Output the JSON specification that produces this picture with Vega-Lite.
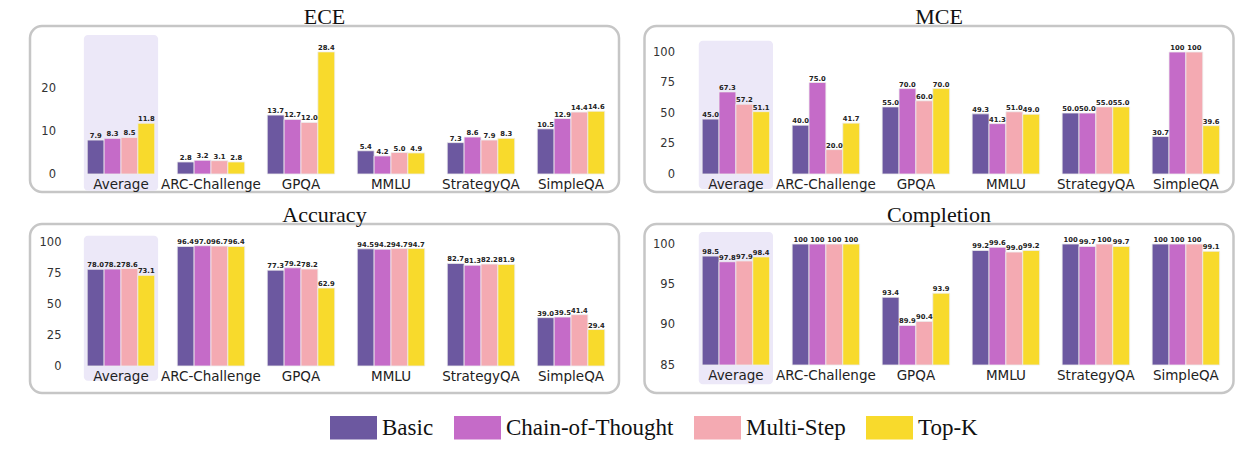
{
  "$schema": "https://vega.github.io/schema/vega-lite/v6.json",
  "padding": {"left": 28, "top": 4, "right": 5, "bottom": 5},
  "autosize": {"type": "pad"},
  "bounds": "flush",
  "columns": 2,
  "spacing": {"row": 32, "column": 25.5},
  "datasets": {
    "vals": [
      {"metric": "ECE", "benchmark": "Average", "method": "Basic", "value": 7.9},
      {"metric": "ECE", "benchmark": "Average", "method": "Chain-of-Thought", "value": 8.3},
      {"metric": "ECE", "benchmark": "Average", "method": "Multi-Step", "value": 8.5},
      {"metric": "ECE", "benchmark": "Average", "method": "Top-K", "value": 11.8},
      {"metric": "ECE", "benchmark": "ARC-Challenge", "method": "Basic", "value": 2.8},
      {"metric": "ECE", "benchmark": "ARC-Challenge", "method": "Chain-of-Thought", "value": 3.2},
      {"metric": "ECE", "benchmark": "ARC-Challenge", "method": "Multi-Step", "value": 3.1},
      {"metric": "ECE", "benchmark": "ARC-Challenge", "method": "Top-K", "value": 2.8},
      {"metric": "ECE", "benchmark": "GPQA", "method": "Basic", "value": 13.7},
      {"metric": "ECE", "benchmark": "GPQA", "method": "Chain-of-Thought", "value": 12.7},
      {"metric": "ECE", "benchmark": "GPQA", "method": "Multi-Step", "value": 12.0},
      {"metric": "ECE", "benchmark": "GPQA", "method": "Top-K", "value": 28.4},
      {"metric": "ECE", "benchmark": "MMLU", "method": "Basic", "value": 5.4},
      {"metric": "ECE", "benchmark": "MMLU", "method": "Chain-of-Thought", "value": 4.2},
      {"metric": "ECE", "benchmark": "MMLU", "method": "Multi-Step", "value": 5.0},
      {"metric": "ECE", "benchmark": "MMLU", "method": "Top-K", "value": 4.9},
      {"metric": "ECE", "benchmark": "StrategyQA", "method": "Basic", "value": 7.3},
      {"metric": "ECE", "benchmark": "StrategyQA", "method": "Chain-of-Thought", "value": 8.6},
      {"metric": "ECE", "benchmark": "StrategyQA", "method": "Multi-Step", "value": 7.9},
      {"metric": "ECE", "benchmark": "StrategyQA", "method": "Top-K", "value": 8.3},
      {"metric": "ECE", "benchmark": "SimpleQA", "method": "Basic", "value": 10.5},
      {"metric": "ECE", "benchmark": "SimpleQA", "method": "Chain-of-Thought", "value": 12.9},
      {"metric": "ECE", "benchmark": "SimpleQA", "method": "Multi-Step", "value": 14.4},
      {"metric": "ECE", "benchmark": "SimpleQA", "method": "Top-K", "value": 14.6},

      {"metric": "MCE", "benchmark": "Average", "method": "Basic", "value": 45.0},
      {"metric": "MCE", "benchmark": "Average", "method": "Chain-of-Thought", "value": 67.3},
      {"metric": "MCE", "benchmark": "Average", "method": "Multi-Step", "value": 57.2},
      {"metric": "MCE", "benchmark": "Average", "method": "Top-K", "value": 51.1},
      {"metric": "MCE", "benchmark": "ARC-Challenge", "method": "Basic", "value": 40.0},
      {"metric": "MCE", "benchmark": "ARC-Challenge", "method": "Chain-of-Thought", "value": 75.0},
      {"metric": "MCE", "benchmark": "ARC-Challenge", "method": "Multi-Step", "value": 20.0},
      {"metric": "MCE", "benchmark": "ARC-Challenge", "method": "Top-K", "value": 41.7},
      {"metric": "MCE", "benchmark": "GPQA", "method": "Basic", "value": 55.0},
      {"metric": "MCE", "benchmark": "GPQA", "method": "Chain-of-Thought", "value": 70.0},
      {"metric": "MCE", "benchmark": "GPQA", "method": "Multi-Step", "value": 60.0},
      {"metric": "MCE", "benchmark": "GPQA", "method": "Top-K", "value": 70.0},
      {"metric": "MCE", "benchmark": "MMLU", "method": "Basic", "value": 49.3},
      {"metric": "MCE", "benchmark": "MMLU", "method": "Chain-of-Thought", "value": 41.3},
      {"metric": "MCE", "benchmark": "MMLU", "method": "Multi-Step", "value": 51.0},
      {"metric": "MCE", "benchmark": "MMLU", "method": "Top-K", "value": 49.0},
      {"metric": "MCE", "benchmark": "StrategyQA", "method": "Basic", "value": 50.0},
      {"metric": "MCE", "benchmark": "StrategyQA", "method": "Chain-of-Thought", "value": 50.0},
      {"metric": "MCE", "benchmark": "StrategyQA", "method": "Multi-Step", "value": 55.0},
      {"metric": "MCE", "benchmark": "StrategyQA", "method": "Top-K", "value": 55.0},
      {"metric": "MCE", "benchmark": "SimpleQA", "method": "Basic", "value": 30.7},
      {"metric": "MCE", "benchmark": "SimpleQA", "method": "Chain-of-Thought", "value": 100},
      {"metric": "MCE", "benchmark": "SimpleQA", "method": "Multi-Step", "value": 100},
      {"metric": "MCE", "benchmark": "SimpleQA", "method": "Top-K", "value": 39.6},

      {"metric": "Accuracy", "benchmark": "Average", "method": "Basic", "value": 78.0},
      {"metric": "Accuracy", "benchmark": "Average", "method": "Chain-of-Thought", "value": 78.2},
      {"metric": "Accuracy", "benchmark": "Average", "method": "Multi-Step", "value": 78.6},
      {"metric": "Accuracy", "benchmark": "Average", "method": "Top-K", "value": 73.1},
      {"metric": "Accuracy", "benchmark": "ARC-Challenge", "method": "Basic", "value": 96.4},
      {"metric": "Accuracy", "benchmark": "ARC-Challenge", "method": "Chain-of-Thought", "value": 97.0},
      {"metric": "Accuracy", "benchmark": "ARC-Challenge", "method": "Multi-Step", "value": 96.7},
      {"metric": "Accuracy", "benchmark": "ARC-Challenge", "method": "Top-K", "value": 96.4},
      {"metric": "Accuracy", "benchmark": "GPQA", "method": "Basic", "value": 77.3},
      {"metric": "Accuracy", "benchmark": "GPQA", "method": "Chain-of-Thought", "value": 79.2},
      {"metric": "Accuracy", "benchmark": "GPQA", "method": "Multi-Step", "value": 78.2},
      {"metric": "Accuracy", "benchmark": "GPQA", "method": "Top-K", "value": 62.9},
      {"metric": "Accuracy", "benchmark": "MMLU", "method": "Basic", "value": 94.5},
      {"metric": "Accuracy", "benchmark": "MMLU", "method": "Chain-of-Thought", "value": 94.2},
      {"metric": "Accuracy", "benchmark": "MMLU", "method": "Multi-Step", "value": 94.7},
      {"metric": "Accuracy", "benchmark": "MMLU", "method": "Top-K", "value": 94.7},
      {"metric": "Accuracy", "benchmark": "StrategyQA", "method": "Basic", "value": 82.7},
      {"metric": "Accuracy", "benchmark": "StrategyQA", "method": "Chain-of-Thought", "value": 81.3},
      {"metric": "Accuracy", "benchmark": "StrategyQA", "method": "Multi-Step", "value": 82.2},
      {"metric": "Accuracy", "benchmark": "StrategyQA", "method": "Top-K", "value": 81.9},
      {"metric": "Accuracy", "benchmark": "SimpleQA", "method": "Basic", "value": 39.0},
      {"metric": "Accuracy", "benchmark": "SimpleQA", "method": "Chain-of-Thought", "value": 39.5},
      {"metric": "Accuracy", "benchmark": "SimpleQA", "method": "Multi-Step", "value": 41.4},
      {"metric": "Accuracy", "benchmark": "SimpleQA", "method": "Top-K", "value": 29.4},

      {"metric": "Completion", "benchmark": "Average", "method": "Basic", "value": 98.5},
      {"metric": "Completion", "benchmark": "Average", "method": "Chain-of-Thought", "value": 97.8},
      {"metric": "Completion", "benchmark": "Average", "method": "Multi-Step", "value": 97.9},
      {"metric": "Completion", "benchmark": "Average", "method": "Top-K", "value": 98.4},
      {"metric": "Completion", "benchmark": "ARC-Challenge", "method": "Basic", "value": 100},
      {"metric": "Completion", "benchmark": "ARC-Challenge", "method": "Chain-of-Thought", "value": 100},
      {"metric": "Completion", "benchmark": "ARC-Challenge", "method": "Multi-Step", "value": 100},
      {"metric": "Completion", "benchmark": "ARC-Challenge", "method": "Top-K", "value": 100},
      {"metric": "Completion", "benchmark": "GPQA", "method": "Basic", "value": 93.4},
      {"metric": "Completion", "benchmark": "GPQA", "method": "Chain-of-Thought", "value": 89.9},
      {"metric": "Completion", "benchmark": "GPQA", "method": "Multi-Step", "value": 90.4},
      {"metric": "Completion", "benchmark": "GPQA", "method": "Top-K", "value": 93.9},
      {"metric": "Completion", "benchmark": "MMLU", "method": "Basic", "value": 99.2},
      {"metric": "Completion", "benchmark": "MMLU", "method": "Chain-of-Thought", "value": 99.6},
      {"metric": "Completion", "benchmark": "MMLU", "method": "Multi-Step", "value": 99.0},
      {"metric": "Completion", "benchmark": "MMLU", "method": "Top-K", "value": 99.2},
      {"metric": "Completion", "benchmark": "StrategyQA", "method": "Basic", "value": 100},
      {"metric": "Completion", "benchmark": "StrategyQA", "method": "Chain-of-Thought", "value": 99.7},
      {"metric": "Completion", "benchmark": "StrategyQA", "method": "Multi-Step", "value": 100},
      {"metric": "Completion", "benchmark": "StrategyQA", "method": "Top-K", "value": 99.7},
      {"metric": "Completion", "benchmark": "SimpleQA", "method": "Basic", "value": 100},
      {"metric": "Completion", "benchmark": "SimpleQA", "method": "Chain-of-Thought", "value": 100},
      {"metric": "Completion", "benchmark": "SimpleQA", "method": "Multi-Step", "value": 100},
      {"metric": "Completion", "benchmark": "SimpleQA", "method": "Top-K", "value": 99.1}
    ]
  },
  "concat": [
    {
      "title": {"text": "ECE"},
      "width": 589, "height": 166,
      "encoding": {
        "x": {"field": "benchmark", "type": "nominal",
              "sort": ["Average", "ARC-Challenge", "GPQA", "MMLU", "StrategyQA", "SimpleQA"],
              "scale": {"range": [28.5, 589], "paddingInner": 0.25, "paddingOuter": 0.239, "align": 0.668},
              "axis": {"offset": -18, "zindex": 2}}
      },
      "layer": [
        {
          "data": {"values": [{"benchmark": "Average"}]},
          "mark": {"type": "bar", "color": "#ece8f8", "cornerRadius": 4, "width": {"band": 1.1}},
          "encoding": {
            "y": {"datum": 32.3, "type": "quantitative", "scale": {"domain": [0, 30], "range": [148, 19]}, "axis": {"offset": -28.5, "values": [0, 10, 20]}},
            "y2": {"datum": -3.9}
          }
        },
        {
          "data": {"name": "vals"},
          "transform": [{"filter": "datum.metric == 'ECE'"}],
          "mark": {"type": "bar", "stroke": "#eeeeee", "strokeWidth": 0.8},
          "encoding": {
            "xOffset": {"field": "method", "type": "nominal", "sort": ["Basic", "Chain-of-Thought", "Multi-Step", "Top-K"], "scale": {"paddingInner": 0, "paddingOuter": 0}},
            "y": {"field": "value", "type": "quantitative", "scale": {"domain": [0, 30], "range": [148, 19]}, "axis": {"offset": -28.5, "values": [0, 10, 20]}},
            "y2": {"datum": 0},
            "color": {"field": "method", "type": "nominal",
              "scale": {"domain": ["Basic", "Chain-of-Thought", "Multi-Step", "Top-K"], "range": ["#6c58a0", "#c56bc8", "#f4aab2", "#f8da2c"]},
              "legend": {"orient": "none", "legendX": 300, "legendY": 378, "direction": "horizontal", "title": null,
                "symbolType": "M-1,-0.5H1V0.5H-1Z", "symbolSize": 2209, "symbolStrokeWidth": 0,
                "labelFont": "Liberation Serif", "labelFontSize": 23, "labelColor": "#111", "labelOffset": 5,
                "columnPadding": 20, "labelLimit": 300}}
          }
        },
        {
          "data": {"name": "vals"},
          "transform": [{"filter": "datum.metric == 'ECE'"}, {"calculate": "datum.value == 100 ? '100' : format(datum.value, '.1f')", "as": "label"}],
          "mark": {"type": "text", "font": "DejaVu Sans", "fontSize": 6.8, "fontWeight": "bold", "baseline": "bottom", "dy": -1, "color": "#222"},
          "encoding": {
            "xOffset": {"field": "method", "type": "nominal", "sort": ["Basic", "Chain-of-Thought", "Multi-Step", "Top-K"], "scale": {"paddingInner": 0, "paddingOuter": 0}},
            "y": {"field": "value", "type": "quantitative", "scale": {"domain": [0, 30], "range": [148, 19]}},
            "text": {"field": "label"}
          }
        }
      ]
    },
    {
      "title": {"text": "MCE"},
      "width": 589, "height": 166,
      "encoding": {
        "x": {"field": "benchmark", "type": "nominal",
              "sort": ["Average", "ARC-Challenge", "GPQA", "MMLU", "StrategyQA", "SimpleQA"],
              "scale": {"range": [33, 589], "paddingInner": 0.25, "paddingOuter": 0.214, "align": 0.64},
              "axis": {"offset": -18, "zindex": 2}}
      },
      "layer": [
        {
          "data": {"values": [{"benchmark": "Average"}]},
          "mark": {"type": "bar", "color": "#ece8f8", "cornerRadius": 4, "width": {"band": 1.1}},
          "encoding": {
            "y": {"datum": 109.3, "type": "quantitative", "scale": {"domain": [0, 100], "range": [148, 26]}, "axis": {"offset": -33, "values": [0, 25, 50, 75, 100]}},
            "y2": {"datum": -12.3}
          }
        },
        {
          "data": {"name": "vals"},
          "transform": [{"filter": "datum.metric == 'MCE'"}],
          "mark": {"type": "bar", "stroke": "#eeeeee", "strokeWidth": 0.8},
          "encoding": {
            "xOffset": {"field": "method", "type": "nominal", "sort": ["Basic", "Chain-of-Thought", "Multi-Step", "Top-K"], "scale": {"paddingInner": 0, "paddingOuter": 0}},
            "y": {"field": "value", "type": "quantitative", "scale": {"domain": [0, 100], "range": [148, 26]}, "axis": {"offset": -33, "values": [0, 25, 50, 75, 100]}},
            "y2": {"datum": 0},
            "color": {"field": "method", "type": "nominal"}
          }
        },
        {
          "data": {"name": "vals"},
          "transform": [{"filter": "datum.metric == 'MCE'"}, {"calculate": "datum.value == 100 ? '100' : format(datum.value, '.1f')", "as": "label"}],
          "mark": {"type": "text", "font": "DejaVu Sans", "fontSize": 6.8, "fontWeight": "bold", "baseline": "bottom", "dy": -1, "color": "#222"},
          "encoding": {
            "xOffset": {"field": "method", "type": "nominal", "sort": ["Basic", "Chain-of-Thought", "Multi-Step", "Top-K"], "scale": {"paddingInner": 0, "paddingOuter": 0}},
            "y": {"field": "value", "type": "quantitative", "scale": {"domain": [0, 100], "range": [148, 26]}},
            "text": {"field": "label"}
          }
        }
      ]
    },
    {
      "title": {"text": "Accuracy"},
      "width": 589, "height": 169,
      "encoding": {
        "x": {"field": "benchmark", "type": "nominal",
              "sort": ["Average", "ARC-Challenge", "GPQA", "MMLU", "StrategyQA", "SimpleQA"],
              "scale": {"range": [34, 589], "paddingInner": 0.25, "paddingOuter": 0.208, "align": 0.62},
              "axis": {"offset": -27, "zindex": 2}}
      },
      "layer": [
        {
          "data": {"values": [{"benchmark": "Average"}]},
          "mark": {"type": "bar", "color": "#ece8f8", "cornerRadius": 4, "width": {"band": 1.1}},
          "encoding": {
            "y": {"datum": 105, "type": "quantitative", "scale": {"domain": [0, 100], "range": [142, 18]}, "axis": {"offset": -34, "values": [0, 25, 50, 75, 100]}},
            "y2": {"datum": -11.9}
          }
        },
        {
          "data": {"name": "vals"},
          "transform": [{"filter": "datum.metric == 'Accuracy'"}],
          "mark": {"type": "bar", "stroke": "#eeeeee", "strokeWidth": 0.8},
          "encoding": {
            "xOffset": {"field": "method", "type": "nominal", "sort": ["Basic", "Chain-of-Thought", "Multi-Step", "Top-K"], "scale": {"paddingInner": 0, "paddingOuter": 0}},
            "y": {"field": "value", "type": "quantitative", "scale": {"domain": [0, 100], "range": [142, 18]}, "axis": {"offset": -34, "values": [0, 25, 50, 75, 100]}},
            "y2": {"datum": 0},
            "color": {"field": "method", "type": "nominal"}
          }
        },
        {
          "data": {"name": "vals"},
          "transform": [{"filter": "datum.metric == 'Accuracy'"}, {"calculate": "datum.value == 100 ? '100' : format(datum.value, '.1f')", "as": "label"}],
          "mark": {"type": "text", "font": "DejaVu Sans", "fontSize": 6.8, "fontWeight": "bold", "baseline": "bottom", "dy": -1, "color": "#222"},
          "encoding": {
            "xOffset": {"field": "method", "type": "nominal", "sort": ["Basic", "Chain-of-Thought", "Multi-Step", "Top-K"], "scale": {"paddingInner": 0, "paddingOuter": 0}},
            "y": {"field": "value", "type": "quantitative", "scale": {"domain": [0, 100], "range": [142, 18]}},
            "text": {"field": "label"}
          }
        }
      ]
    },
    {
      "title": {"text": "Completion"},
      "width": 589, "height": 169,
      "encoding": {
        "x": {"field": "benchmark", "type": "nominal",
              "sort": ["Average", "ARC-Challenge", "GPQA", "MMLU", "StrategyQA", "SimpleQA"],
              "scale": {"range": [33, 589], "paddingInner": 0.25, "paddingOuter": 0.214, "align": 0.64},
              "axis": {"offset": -28, "zindex": 2}}
      },
      "layer": [
        {
          "data": {"values": [{"benchmark": "Average"}]},
          "mark": {"type": "bar", "color": "#ece8f8", "cornerRadius": 4, "width": {"band": 1.1}},
          "encoding": {
            "y": {"datum": 101.5, "type": "quantitative", "scale": {"domain": [85, 100], "range": [141, 20], "zero": false}, "axis": {"offset": -33, "values": [85, 90, 95, 100]}},
            "y2": {"datum": 82.6}
          }
        },
        {
          "data": {"name": "vals"},
          "transform": [{"filter": "datum.metric == 'Completion'"}],
          "mark": {"type": "bar", "stroke": "#eeeeee", "strokeWidth": 0.8},
          "encoding": {
            "xOffset": {"field": "method", "type": "nominal", "sort": ["Basic", "Chain-of-Thought", "Multi-Step", "Top-K"], "scale": {"paddingInner": 0, "paddingOuter": 0}},
            "y": {"field": "value", "type": "quantitative", "scale": {"domain": [85, 100], "range": [141, 20], "zero": false}, "axis": {"offset": -33, "values": [85, 90, 95, 100]}},
            "y2": {"datum": 85},
            "color": {"field": "method", "type": "nominal"}
          }
        },
        {
          "data": {"name": "vals"},
          "transform": [{"filter": "datum.metric == 'Completion'"}, {"calculate": "datum.value == 100 ? '100' : format(datum.value, '.1f')", "as": "label"}],
          "mark": {"type": "text", "font": "DejaVu Sans", "fontSize": 6.8, "fontWeight": "bold", "baseline": "bottom", "dy": -1, "color": "#222"},
          "encoding": {
            "xOffset": {"field": "method", "type": "nominal", "sort": ["Basic", "Chain-of-Thought", "Multi-Step", "Top-K"], "scale": {"paddingInner": 0, "paddingOuter": 0}},
            "y": {"field": "value", "type": "quantitative", "scale": {"domain": [85, 100], "range": [141, 20], "zero": false}},
            "text": {"field": "label"}
          }
        }
      ]
    }
  ],
  "resolve": {"scale": {"y": "independent", "x": "independent", "xOffset": "independent"}},
  "config": {
    "view": {"stroke": "#c6c6c6", "strokeWidth": 2.5, "cornerRadius": 12},
    "title": {"font": "Liberation Serif", "fontSize": 22, "fontWeight": "normal", "color": "#111", "anchor": "middle", "frame": "group", "offset": -3},
    "axisY": {"domain": false, "ticks": false, "labelFont": "DejaVu Sans", "labelFontSize": 11.5, "labelColor": "#333", "labelPadding": 3, "gridColor": "#dedede", "gridWidth": 1, "title": null},
    "axisX": {"domain": false, "ticks": false, "labelFont": "DejaVu Sans", "labelFontSize": 13.5, "labelColor": "#222", "labelPadding": 3, "labelAngle": 0, "title": null, "grid": false}
  }
}
